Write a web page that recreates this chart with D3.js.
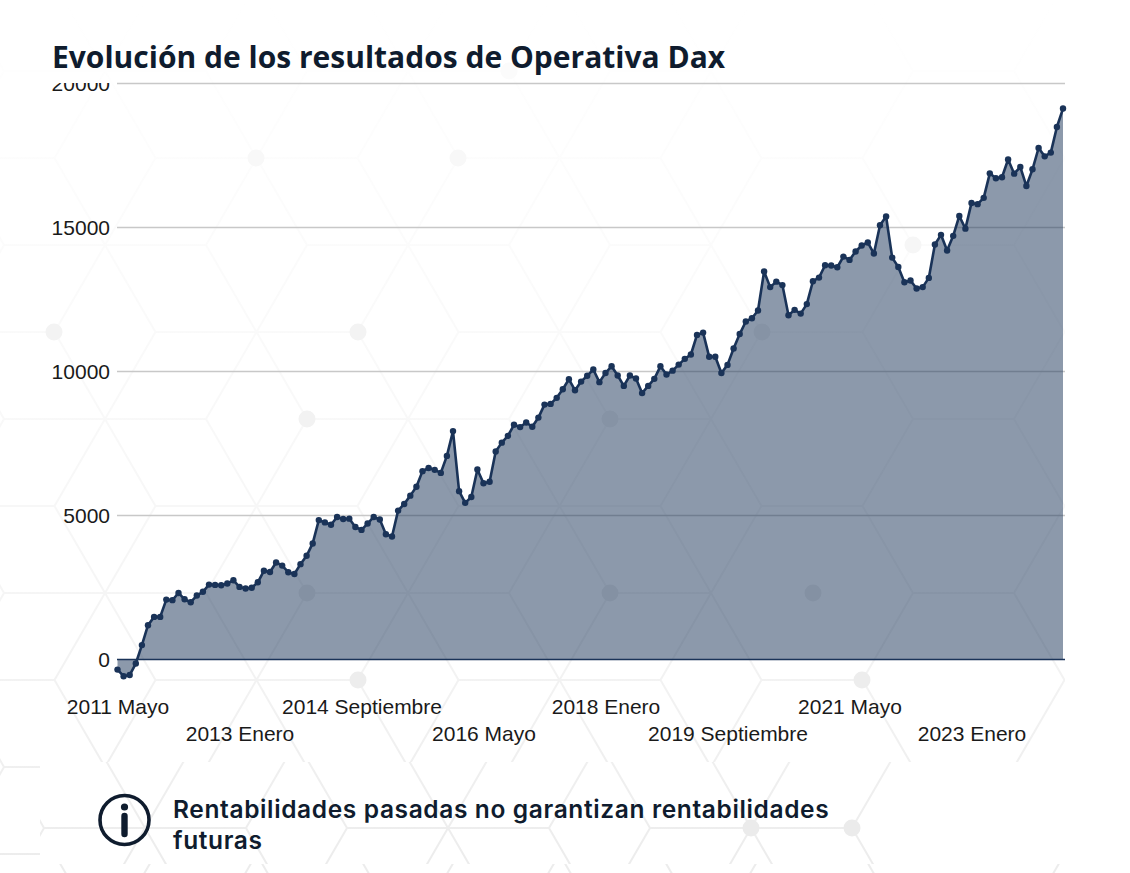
<!DOCTYPE html>
<html lang="es">
<head>
<meta charset="utf-8">
<title>Evolución de los resultados de Operativa Dax</title>
<script src="https://cdn.jsdelivr.net/npm/d3@7"></script>
<style>
  html, body { margin: 0; padding: 0; background: #fff; }
  svg { display: block; }
  .axis text { font-family: "Liberation Sans", Arial, sans-serif; font-size: 21px; fill: #1a1a1a; }
  .title { font-family: "Open Sans", sans-serif; font-weight: 700; font-size: 30px; fill: #0f1c2e; }
  .note { font-family: Inter, sans-serif; font-weight: 600; font-size: 24.5px; letter-spacing: 0.63px; fill: #0f1c2e; }
</style>
</head>
<body>
<div id="chart"></div>
<script>
const monthNames = ["Enero", "Febrero", "Marzo", "Abril", "Mayo", "Junio", "Julio", "Agosto", "Septiembre", "Octubre", "Noviembre", "Diciembre"];

// monthly, from 2011 Mayo
const results = [
  -350, -580, -540, -140, 500, 1190, 1480, 1480, 2080, 2060,
  2310, 2090, 1990, 2220, 2350, 2600, 2590, 2580, 2640, 2750,
  2520, 2465, 2490, 2680, 3080, 3040, 3370, 3260, 3030, 2970,
  3310, 3600, 4030, 4840, 4760, 4680, 4950, 4880, 4890, 4600,
  4500, 4720, 4950, 4860, 4350, 4270, 5170, 5400, 5690, 6000,
  6540, 6650, 6585, 6480, 7070, 7930, 5845, 5440, 5640, 6600,
  6120, 6170, 7220, 7530, 7765, 8150, 8070, 8230, 8080, 8400,
  8850, 8875, 9085, 9385, 9730, 9350, 9650, 9850, 10070, 9630,
  9950, 10180, 9860, 9500, 9860, 9755, 9250, 9500, 9745, 10180,
  9895, 10030, 10240, 10440, 10590, 11270, 11350, 10510, 10510, 9950,
  10230, 10800, 11300, 11735, 11850, 12120, 13470, 12930, 13120, 13000,
  11955, 12140, 12010, 12340, 13135, 13260, 13690, 13680, 13620, 13990,
  13875, 14165, 14375, 14480, 14095, 15080, 15380, 13955, 13630, 13100,
  13160, 12880, 12930, 13250, 14410, 14745, 14200, 14710, 15400, 14960,
  15850, 15810, 16030, 16880, 16710, 16745, 17360, 16870, 17100, 16440,
  17020, 17760, 17470, 17600, 18490, 19130
];

const categories = results.map((d, i) => {
  const m = 4 + i;
  return (2011 + Math.floor(m / 12)) + " " + monthNames[m % 12];
});

const xTickLabels = ["2011 Mayo", "2013 Enero", "2014 Septiembre", "2016 Mayo", "2018 Enero", "2019 Septiembre", "2021 Mayo", "2023 Enero"];
const yTickValues = [0, 5000, 10000, 15000, 20000];

const titleText = "Evolución de los resultados de Operativa Dax";
const noteLines = ["Rentabilidades pasadas no garantizan rentabilidades", "futuras"];

// knots of the hexagon wallpaper that carry a dot
const wallpaperDots = [[509, 71], [256, 158], [458, 158], [913, 245], [54, 332], [358, 332], [762, 332], [307, 419], [610, 419], [307, 593], [610, 593], [813, 593], [358, 680], [862, 680], [751, 828], [852, 828]];

const width = 1130, height = 873;
const navy = "#1a3358";

const svg = d3.select("#chart").append("svg")
  .attr("width", width)
  .attr("height", height);

const defs = svg.append("defs");

const fade = defs.append("linearGradient")
  .attr("id", "fade")
  .attr("gradientUnits", "userSpaceOnUse")
  .attr("x1", 0).attr("y1", 0).attr("x2", 0).attr("y2", height);
fade.append("stop").attr("offset", 0).attr("stop-color", "#ffffff");
fade.append("stop").attr("offset", 0.3).attr("stop-color", "#fbfbfb");
fade.append("stop").attr("offset", 0.65).attr("stop-color", "#f6f6f6");
fade.append("stop").attr("offset", 1).attr("stop-color", "#ececec");

const dotColor = d3.scaleLinear().domain([70, 330, 830]).range(["#fbfbfb", "#f3f3f3", "#ebebeb"]);

function addClip(id, x, y, w, h) {
  defs.append("clipPath").attr("id", id).append("rect")
    .attr("x", x).attr("y", y).attr("width", w).attr("height", h);
}
addClip("clip-main", 0, 0, width, height);
addClip("clip-left", 0, 0, 712, height);
addClip("clip-note", 40, 762, 855, 102);

// flat-top hexagons, side 101, anchored on one hexagon centre
function honeycomb(cx0, cy0, clipId) {
  const side = 101, rowStep = 87;
  const path = d3.path();
  for (let m = -9; m <= 9; m++) {
    for (let n = -12; n <= 12; n++) {
      if ((m + n) % 2 !== 0) continue;
      const cx = cx0 + m * 151.5, cy = cy0 + n * rowStep;
      path.moveTo(cx - side, cy);
      path.lineTo(cx - side / 2, cy - rowStep);
      path.lineTo(cx + side / 2, cy - rowStep);
      path.lineTo(cx + side, cy);
      path.lineTo(cx + side / 2, cy + rowStep);
      path.lineTo(cx - side / 2, cy + rowStep);
      path.closePath();
    }
  }
  svg.append("path")
    .attr("d", path.toString())
    .attr("fill", "none")
    .attr("stroke", "url(#fade)")
    .attr("stroke-width", 2)
    .attr("clip-path", "url(#" + clipId + ")");
}

honeycomb(963.5, 506, "clip-main");
honeycomb(1064.5, 506, "clip-left");

svg.selectAll("circle.knot")
  .data(wallpaperDots)
  .enter()
  .append("circle")
  .attr("class", "knot")
  .attr("cx", d => d[0])
  .attr("cy", d => d[1])
  .attr("r", 8.5)
  .attr("fill", d => dotColor(d[1]));

// the wallpaper stops at the chart box, the note has its own box
svg.append("rect").attr("x", 1065).attr("y", 0).attr("width", 65).attr("height", 762).attr("fill", "#fff");
svg.append("rect").attr("x", 40).attr("y", 762).attr("width", 1090).attr("height", 102).attr("fill", "#fff");
honeycomb(801.5, 828 - 87, "clip-note");
honeycomb(700.5, 828 - 87, "clip-note");
svg.selectAll("circle.knot2")
  .data(wallpaperDots.filter(d => d[1] > 762))
  .enter()
  .append("circle")
  .attr("class", "knot2")
  .attr("cx", d => d[0])
  .attr("cy", d => d[1])
  .attr("r", 8.5)
  .attr("fill", "#ebebeb");

const x = d3.scalePoint().domain(categories).range([117.5, 1063]);
const y = d3.scaleLinear().domain([0, 20000]).range([659.5, 83.5]);

// grid
svg.selectAll("line.grid")
  .data(yTickValues.filter(d => d !== 0))
  .enter()
  .append("line")
  .attr("class", "grid")
  .attr("x1", 117)
  .attr("x2", 1065)
  .attr("y1", d => y(d))
  .attr("y2", d => y(d))
  .attr("stroke", "#c8c8c8")
  .attr("stroke-width", 1.5);

const area = d3.area()
  .x((d, i) => x(categories[i]))
  .y0(y(0))
  .y1(d => y(d));

const line = d3.line()
  .x((d, i) => x(categories[i]))
  .y(d => y(d));

svg.append("path")
  .datum(results)
  .attr("d", area)
  .attr("fill", navy)
  .attr("fill-opacity", 0.5);

svg.append("line")
  .attr("x1", 117)
  .attr("x2", 1065)
  .attr("y1", y(0))
  .attr("y2", y(0))
  .attr("stroke", navy)
  .attr("stroke-width", 1.5);

svg.append("path")
  .datum(results)
  .attr("d", line)
  .attr("fill", "none")
  .attr("stroke", navy)
  .attr("stroke-width", 2.6)
  .attr("stroke-linejoin", "round");

svg.selectAll("circle.point")
  .data(results)
  .enter()
  .append("circle")
  .attr("class", "point")
  .attr("cx", (d, i) => x(categories[i]))
  .attr("cy", d => y(d))
  .attr("r", 3.2)
  .attr("fill", navy);

// axes
defs.append("clipPath").attr("id", "clip-y").append("rect")
  .attr("x", -117).attr("y", 83).attr("width", 117).attr("height", 640);

const yAxis = svg.append("g")
  .attr("class", "axis")
  .attr("transform", "translate(117,0)")
  .attr("clip-path", "url(#clip-y)")
  .call(d3.axisLeft(y).tickValues(yTickValues).tickFormat(d3.format("d")).tickSize(0).tickPadding(7));
yAxis.select(".domain").remove();

const xAxis = svg.append("g")
  .attr("class", "axis")
  .attr("transform", "translate(0,680)")
  .call(d3.axisBottom(x).tickValues(xTickLabels).tickSize(0));
xAxis.select(".domain").remove();
xAxis.selectAll("text")
  .attr("dy", null)
  .attr("y", (d, i) => i % 2 === 0 ? 33.5 : 60.5);

// title and note
svg.append("text")
  .attr("class", "title")
  .attr("x", 52)
  .attr("y", 68)
  .text(titleText);

const icon = svg.append("g").attr("transform", "translate(124.5,820)");
icon.append("circle").attr("r", 24.5).attr("fill", "none").attr("stroke", "#0f1c2e").attr("stroke-width", 3.6);
icon.append("circle").attr("cy", -13).attr("r", 3.6).attr("fill", "#0f1c2e");
icon.append("line").attr("y1", -4).attr("y2", 14).attr("stroke", "#0f1c2e").attr("stroke-width", 6.4).attr("stroke-linecap", "round");

svg.selectAll("text.note")
  .data(noteLines)
  .enter()
  .append("text")
  .attr("class", "note")
  .attr("x", 173)
  .attr("y", (d, i) => 818 + i * 31)
  .text(d => d);
</script>
</body>
</html>
